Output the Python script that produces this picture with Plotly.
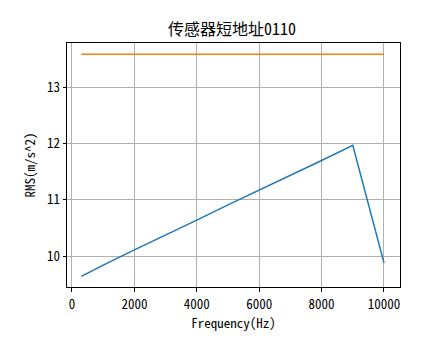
import plotly.graph_objects as go

freq = [300, 1000, 2000, 3000, 4000, 5000, 6000, 7000, 8000, 9000, 10000]
rms_blue = [9.64, 9.84, 10.11, 10.37, 10.64, 10.91, 11.17, 11.44, 11.70, 11.97, 9.88]
rms_orange = [13.59] * len(freq)
x_ticks = [0, 2000, 4000, 6000, 8000, 10000]
x_ticklabels = ["0", "2000", "4000", "6000", "8000", "10000"]
y_ticks = [10, 11, 12, 13]
title = "传感器短地址0110"
xlabel = "Frequency(Hz)"
ylabel = "RMS(m/s^2)"

font = "Noto Sans Mono CJK SC, Noto Sans CJK SC, DejaVu Sans, sans-serif"

fig = go.Figure()
fig.add_trace(go.Scatter(x=freq, y=rms_blue, mode="lines",
                         line=dict(color="#1f77b4", width=1.5), showlegend=False))
fig.add_trace(go.Scatter(x=freq, y=rms_orange, mode="lines",
                         line=dict(color="#ff7f0e", width=1.5), showlegend=False))

axis_common = dict(showline=True, linecolor="black", linewidth=1, mirror=True,
                   ticks="outside", ticklen=3.5, tickwidth=1, tickcolor="black",
                   showgrid=True, gridcolor="#b0b0b0", gridwidth=0.8, zeroline=False,
                   automargin=False,
                   tickfont=dict(family=font, size=13, color="black"))

# page body has an 8px default margin; figure sized/margined to compensate
W, H = 436, 351
fig.update_layout(
    width=W, height=H,
    margin=dict(l=59, r=44, t=35, b=72),
    paper_bgcolor="white", plot_bgcolor="white",
    title=dict(text=title, x=(232 - 8) / W, xanchor="center", y=1 - 21 / H, yanchor="middle",
               font=dict(family=font, size=16, color="black")),
    xaxis=dict(range=[-160, 10513], tickvals=x_ticks, ticktext=x_ticklabels,
               ticklabelstandoff=2,
               title=dict(text=xlabel, font=dict(family=font, size=13, color="black"), standoff=3),
               **axis_common),
    yaxis=dict(range=[9.45, 13.79], tickvals=y_ticks,
               title=dict(text=ylabel, font=dict(family=font, size=13, color="black"), standoff=8),
               **axis_common),
)

fig.write_html("out.html")
